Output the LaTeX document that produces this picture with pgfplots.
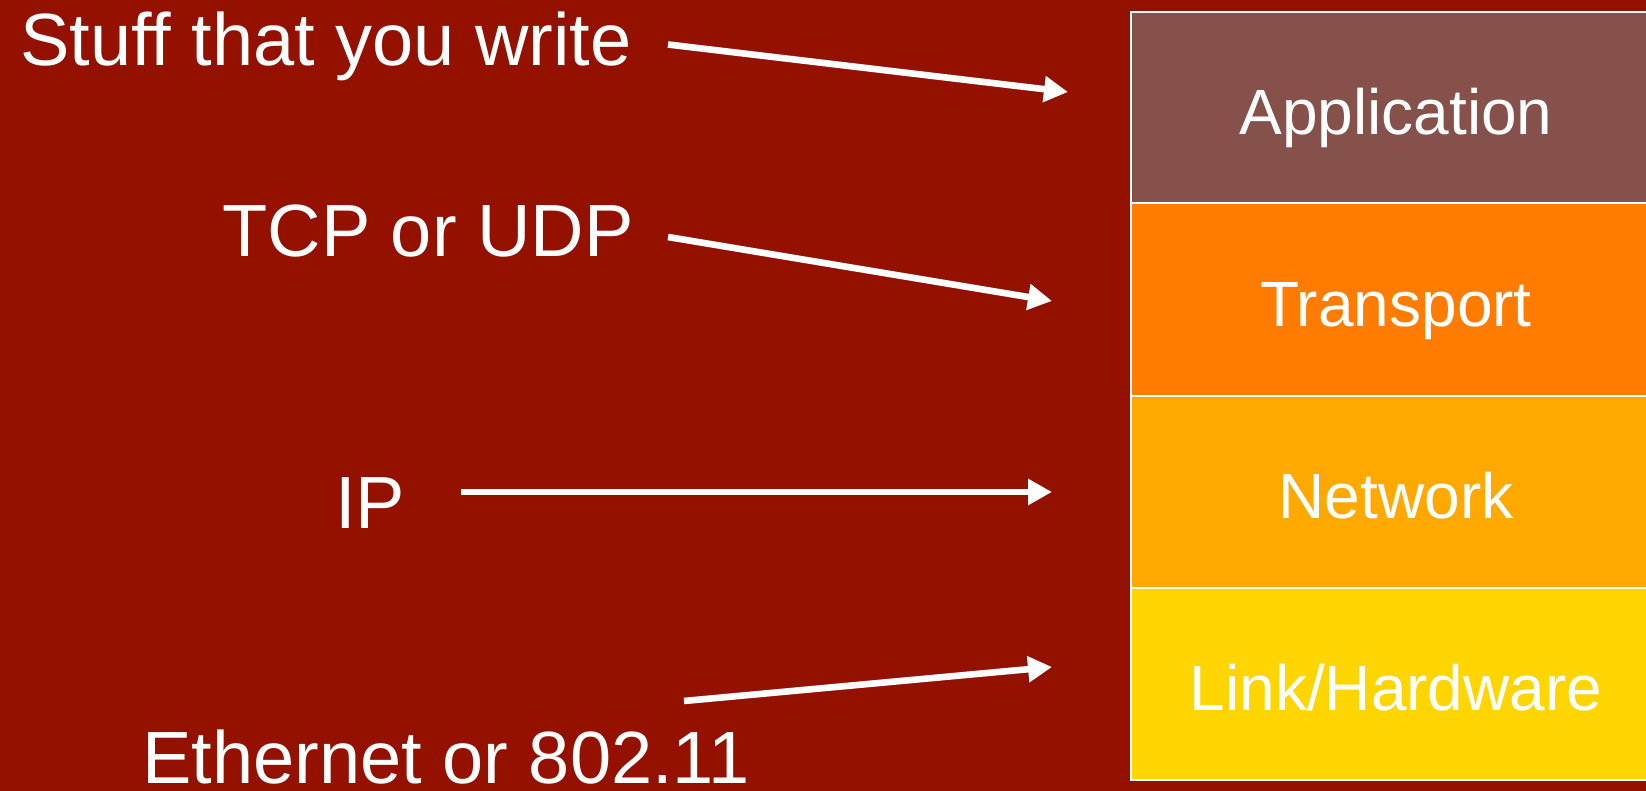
\documentclass[border=0pt]{standalone}
\usepackage{pgfplots}
\pgfplotsset{compat=1.18}
\usepackage{fontspec}
\setmainfont[Ligatures=NoCommon]{Liberation Sans}
\usetikzlibrary{arrows.meta}
\definecolor{bg}{RGB}{148,17,0}
\definecolor{appc}{RGB}{133,81,74}
\definecolor{trc}{RGB}{255,124,0}
\definecolor{netc}{RGB}{255,168,0}
\definecolor{linkc}{RGB}{255,213,0}
\begin{document}
\begin{tikzpicture}
\begin{axis}[
  scale only axis, width=823pt, height=395.5pt,
  xmin=0, xmax=1646, ymin=0, ymax=791, y dir=reverse,
  axis lines=none, ticks=none,
]
% background
\addplot[fill=bg, draw=none] coordinates {(0,0) (1646,0) (1646,791) (0,791)} -- cycle;
% layer boxes
\addplot[fill=appc, draw=white, line width=1pt] coordinates {(1131,12) (1660,12) (1660,203.5) (1131,203.5)} -- cycle;
\addplot[fill=trc, draw=white, line width=1pt] coordinates {(1131,203.5) (1660,203.5) (1660,396) (1131,396)} -- cycle;
\addplot[fill=netc, draw=white, line width=1pt] coordinates {(1131,396) (1660,396) (1660,588) (1131,588)} -- cycle;
\addplot[fill=linkc, draw=white, line width=1pt] coordinates {(1131,588) (1660,588) (1660,780) (1131,780)} -- cycle;
% arrows
\addplot[white, line width=3.3pt, -{Triangle[width=12.5pt,length=12pt]}] coordinates {(668,44.5) (1068,92)};
\addplot[white, line width=3.3pt, -{Triangle[width=12.5pt,length=12pt]}] coordinates {(668,237) (1052,301)};
\addplot[white, line width=3.3pt, -{Triangle[width=12.5pt,length=12pt]}] coordinates {(461,492) (1052,492)};
\addplot[white, line width=3.3pt, -{Triangle[width=12.5pt,length=12pt]}] coordinates {(684,701) (1052,667)};
% left labels
\node[anchor=base east, text=white, font=\fontsize{37}{44}\selectfont, inner sep=0pt] at (axis cs:632,66) {Stuf{}f that you write};
\node[anchor=base east, text=white, font=\fontsize{37}{44}\selectfont, inner sep=0pt] at (axis cs:634,257) {TCP or UDP};
\node[anchor=base west, text=white, font=\fontsize{37}{44}\selectfont, inner sep=0pt] at (axis cs:335,529) {IP};
\node[anchor=base west, text=white, font=\fontsize{37}{44}\selectfont, inner sep=0pt] at (axis cs:142,783) {Ethernet or 802.11};
% box labels
\node[anchor=base, text=white, font=\fontsize{32}{38}\selectfont, inner sep=0pt] at (axis cs:1396,135) {Application};
\node[anchor=base, text=white, font=\fontsize{32}{38}\selectfont, inner sep=0pt] at (axis cs:1396,327) {Transport};
\node[anchor=base, text=white, font=\fontsize{32}{38}\selectfont, inner sep=0pt] at (axis cs:1396,518) {Network};
\node[anchor=base, text=white, font=\fontsize{32}{38}\selectfont, inner sep=0pt] at (axis cs:1396,710) {Link/Hardware};
\end{axis}
\end{tikzpicture}
\end{document}
